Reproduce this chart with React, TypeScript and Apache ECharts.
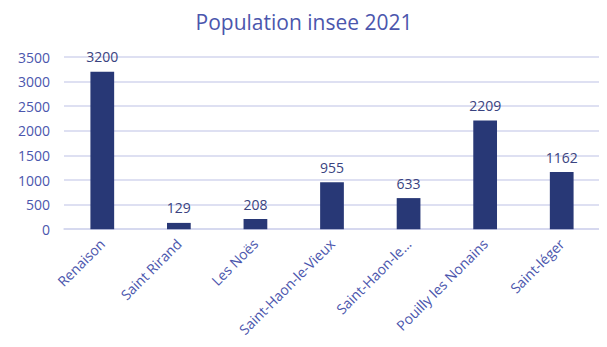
import React, { useEffect, useRef } from "react";
import * as echarts from "echarts";

const categories = [
  "Renaison",
  "Saint Rirand",
  "Les Noës",
  "Saint-Haon-le-Vieux",
  "Saint-Haon-le-Châtel",
  "Pouilly les Nonains",
  "Saint-léger",
];
const population = [3200, 129, 208, 955, 633, 2209, 1162];
const yTicks = [0, 500, 1000, 1500, 2000, 2500, 3000, 3500];

export default function App() {
  const ref = useRef<HTMLDivElement>(null);
  useEffect(() => {
    if (!ref.current) return;
    const chart = echarts.init(ref.current, undefined, { renderer: "svg" });
    const font = "'Open Sans', 'DejaVu Sans', sans-serif";
    chart.setOption({
      animation: false,
      title: {
        text: "Population insee 2021",
        left: "center",
        top: -2,
        textStyle: { color: "#4b56ad", fontSize: 21, fontWeight: "normal", fontFamily: font },
      },
      grid: { left: 56, right: 0, top: 49, bottom: 109 },
      xAxis: {
        type: "category",
        data: categories,
        axisLine: { lineStyle: { color: "#d3d6ee", width: 1.5 } },
        axisTick: { show: false },
        axisLabel: {
          rotate: 45,
          interval: 0,
          color: "#4b56ad",
          fontSize: 14,
          fontFamily: font,
          margin: 12,
          formatter: (v: string) => (v.length > 19 ? v.slice(0, 13) + "..." : v),
        },
      },
      yAxis: {
        type: "value",
        min: yTicks[0],
        max: yTicks[yTicks.length - 1],
        interval: 500,
        axisLine: { show: false },
        axisTick: { show: false },
        axisLabel: {
          color: "#4b56ad",
          fontSize: 14,
          fontFamily: font,
          margin: 14,
          formatter: (v: number) => String(v),
        },
        splitLine: { lineStyle: { color: "#d3d6ee", width: 1.5 } },
      },
      series: [
        {
          type: "bar",
          data: population,
          barWidth: "31%",
          itemStyle: { color: "#283876" },
          label: {
            show: true,
            position: "top",
            distance: 8,
            color: "#3a4380",
            fontSize: 14,
            fontFamily: font,
          },
        },
      ],
    });
    return () => chart.dispose();
  }, []);
  return <div ref={ref} style={{ width: 592, height: 331 }} />;
}
